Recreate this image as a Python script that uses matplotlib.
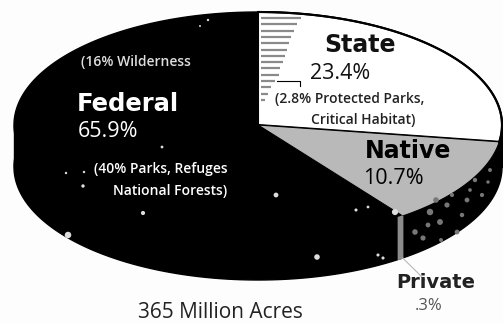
import numpy as np
import matplotlib
matplotlib.use("Agg")
import matplotlib.pyplot as plt

# Land ownership shares, percent of 365 million acres
owners = ["State", "Native", "Private", "Federal"]
shares = [23.4, 10.7, 0.3, 65.9]
share_labels = ["23.4%", "10.7%", ".3%", "65.9%"]
total_label = "365 Million Acres"

# Sub-category notes
federal_note = ["(40% Parks, Refuges", "National Forests)"]
wilderness_note = "(16% Wilderness"
state_note = ["(2.8% Protected Parks,", "Critical Habitat)"]

# Printing flecks on the dark body of the pie
fleck_x = [208, 200, 66, 68, 143, 83, 162, 84, 317, 383, 276, 356, 368, 395, 378,
           436, 467, 440, 490, 423, 475, 457, 482, 430, 447, 415, 462, 470, 488, 452, 428, 441]
fleck_y = [20, 26, 173, 235, 213, 186, 147, 172, 257, 258, 195, 210, 207, 212, 255,
           200, 200, 222, 170, 238, 180, 232, 195, 212, 205, 232, 215, 190, 182, 195, 225, 240]
fleck_s = [3, 2, 3, 22, 9, 6, 4, 3, 16, 5, 12, 5, 4, 20, 5,
           16, 12, 18, 8, 14, 10, 12, 9, 22, 14, 16, 10, 7, 6, 9, 12, 8]
fleck_c = ["#dddddd"] * 15 + ["#777777"] * 17

# Lengths of the hatch rows inside the State wedge, top row first
hatch_len = [40, 36, 33, 30, 28, 26, 24, 22, 19, 18, 14, 10, 7, 4]

cx, cy, rx, ry, depth = 258, 125, 244, 113, 42
sweep = 1.17  # right-hand wedges open up in the tilted view

fig = plt.figure(figsize=(5.03, 3.24), dpi=100, facecolor="#fdfdfd")
ax = fig.add_axes([0, 0, 1, 1])
ax.set_xlim(0, 503)
ax.set_ylim(324, 0)
ax.axis("off")


def rim(a0, a1, dy=0, n=120):
    """Points on the pie rim, clockwise from the top, angles in degrees."""
    t = np.radians(np.linspace(a0, a1, n))
    return cx + rx * np.sin(t), cy + dy - ry * np.cos(t)


def wedge(a0, a1):
    x, y = rim(a0, a1)
    return np.r_[cx, x], np.r_[cy, y]


cum = np.cumsum(shares) * 3.6
a_state, a_native, a_private = cum[:3] * sweep

# Body of the pie: lower rim joined to the upper rim
x0, y0 = rim(0, 360, dy=depth, n=360)
ax.fill(x0, y0, color="black", zorder=1)
xt, yt = rim(0, 360, n=360)
ax.fill(xt, yt, color="black", zorder=1)
ax.fill_between([cx - rx, cx + rx], [cy, cy], [cy + depth, cy + depth], color="black", zorder=1)

# Top surface
ax.fill(*wedge(0, a_state), facecolor="white", edgecolor="black", lw=1.5, zorder=2)
ax.fill(*wedge(a_state, a_native), facecolor="#b9b9b9", edgecolor="black", lw=0.8, zorder=2)
ax.plot(*rim(0, a_state), color="black", lw=1.5, zorder=3)

# Thin private strip on the side wall
xp0, yp0 = rim(a_native, a_private, n=8)
xp1, yp1 = rim(a_native, a_private, dy=depth, n=8)
ax.fill(np.r_[xp0, xp1[::-1]], np.r_[yp0, yp1[::-1]], color="#8c8c8c", zorder=3)
ax.plot([xp1[0], 425], [yp1[0], 280], color="#b8b8b8", lw=0.8, zorder=3)

# Hatch rows marking the protected part of the State share
for i, n in enumerate(hatch_len):
    y = 18 + i * 6.3
    ax.plot([cx + 3, cx + 3 + n], [y, y], color="#8a8a8a", lw=1.6, solid_capstyle="butt", zorder=4)
ax.plot([277, 300, 300], [81, 81, 86], color="black", lw=0.8, zorder=4)

ax.scatter(fleck_x, fleck_y, s=fleck_s, c=fleck_c, linewidths=0, zorder=5)

head = dict(family="DejaVu Sans", weight="bold", ha="left", va="baseline", zorder=6)
body = dict(family="Open Sans", ha="left", va="baseline", zorder=6)
note = dict(family="Open Sans", weight="semibold", va="baseline", zorder=6)

ax.text(77, 111, owners[3], color="white", fontsize=17.5, **head)
ax.text(78, 137, share_labels[3], color="white", fontsize=15.5, **body)
ax.text(81, 66, wilderness_note, color="#dddddd", fontsize=10, **note)
ax.text(228, 173, federal_note[0], color="white", fontsize=10, ha="right", **note)
ax.text(227, 195, federal_note[1], color="white", fontsize=10, ha="right", **note)

ax.text(324, 52, owners[0], color="#111111", fontsize=17, **head)
ax.text(310, 79, share_labels[0], color="#111111", fontsize=15.5, **body)
ax.text(275, 103, state_note[0], color="#222222", fontsize=10, **note)
ax.text(311, 124, state_note[1], color="#222222", fontsize=10, **note)

ax.text(365, 158, owners[1], color="black", fontsize=17, **head)
ax.text(363, 184, share_labels[1], color="black", fontsize=15.5, **body)

ax.text(396, 288, owners[2], color="#222222", fontsize=14, **head)
ax.text(415, 310, share_labels[2], color="#555555", fontsize=12, **body)

ax.text(138, 318, total_label, color="#222222", fontsize=15, **body)

fig.savefig("out.png", dpi=100, facecolor=fig.get_facecolor())
